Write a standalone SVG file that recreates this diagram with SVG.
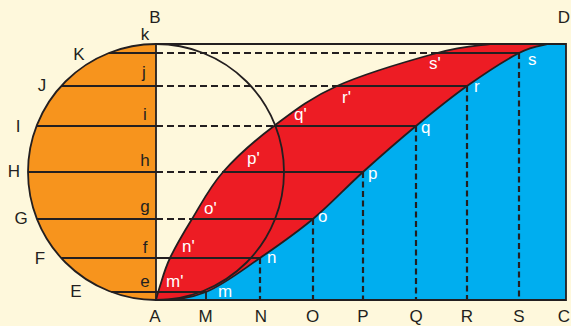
<svg xmlns="http://www.w3.org/2000/svg" width="571" height="326" viewBox="0 0 571 326">
<style>
.ln{stroke:#231f20;stroke-width:1.8;fill:none}
.dh{stroke:#231f20;stroke-width:2;fill:none;stroke-dasharray:7 4}
.dv{stroke:#231f20;stroke-width:2.2;fill:none;stroke-dasharray:6 3.5}
.lb{font-family:"Liberation Sans",Arial,sans-serif;font-size:17px;fill:#231f20;text-anchor:middle}
.wl{font-family:"Liberation Sans",Arial,sans-serif;font-size:17px;fill:#ffffff}
</style>
<rect width="571" height="326" fill="#fef8dc"/>
<g id="fills">
<path id="orange" d="M156,44 A128,128 0 0 0 156,300 Z" fill="#f7941d"/>
<path id="blue" d="M156,300 C175,300 188.7,299 206,292 C223.3,285 242.2,270.2 260,258 C277.8,245.8 295.8,233.3 313,219 C330.2,204.7 345.8,187.5 363,172 C380.2,156.5 398.7,140.3 416,126 C433.3,111.7 449.8,98.2 467,86 C484.2,73.8 505.5,60 519,53 C532.5,46 543.2,45.5 548,44 L566,44 L566,300 Z" fill="#00aeef"/>
<path id="red" d="M156,300 C156.7,297.7 157.7,293 160,286 C162.3,279 164.7,269.2 170,258 C175.3,246.8 183.2,233.3 192,219 C200.8,204.7 209.3,187.5 223,172 C236.7,156.5 255,140.3 274,126 C293,111.7 309.8,98.2 337,86 C364.2,73.8 411.5,60 437,53 C462.5,46 481.2,45.5 490,44 L548,44 C543.2,45.5 532.5,46 519,53 C505.5,60 484.2,73.8 467,86 C449.8,98.2 433.3,111.7 416,126 C398.7,140.3 380.2,156.5 363,172 C345.8,187.5 330.2,204.7 313,219 C295.8,233.3 277.8,245.8 260,258 C242.2,270.2 223.3,285 206,292 C188.7,299 175,300 156,300 Z" fill="#ed1c24"/>
</g>
<g id="connectors">
<g id="solid-lines">
<line class="ln" x1="108.9" y1="53" x2="156" y2="53"/>
<line class="ln" x1="437" y1="53" x2="519" y2="53"/>
<line class="ln" x1="61.2" y1="86" x2="156" y2="86"/>
<line class="ln" x1="337" y1="86" x2="467" y2="86"/>
<line class="ln" x1="36.6" y1="126" x2="156" y2="126"/>
<line class="ln" x1="274" y1="126" x2="416" y2="126"/>
<line class="ln" x1="28" y1="172" x2="156" y2="172"/>
<line class="ln" x1="223" y1="172" x2="363" y2="172"/>
<line class="ln" x1="36.9" y1="219" x2="156" y2="219"/>
<line class="ln" x1="192" y1="219" x2="313" y2="219"/>
<line class="ln" x1="61.2" y1="258" x2="260" y2="258"/>
<line class="ln" x1="111.5" y1="292" x2="206" y2="292"/>
</g>
<g id="dashed-lines">
<line class="dh" x1="156" y1="53" x2="437" y2="53"/>
<line class="dh" x1="156" y1="86" x2="337" y2="86"/>
<line class="dh" x1="156" y1="126" x2="274" y2="126"/>
<line class="dh" x1="156" y1="172" x2="223" y2="172"/>
<line class="dh" x1="156" y1="219" x2="192" y2="219"/>
<line class="ln" x1="206" y1="292" x2="206" y2="300"/>
<line class="dv" x1="260" y1="258" x2="260" y2="300"/>
<line class="dv" x1="313" y1="219" x2="313" y2="300"/>
<line class="dv" x1="363" y1="172" x2="363" y2="300"/>
<line class="dv" x1="416" y1="126" x2="416" y2="300"/>
<line class="dv" x1="467" y1="86" x2="467" y2="300"/>
<line class="dv" x1="519" y1="53" x2="519" y2="300"/>
</g>
<circle class="ln" cx="156" cy="172" r="128" stroke-width="2"/>
<path id="upper-curve" class="ln" d="M156,300 C156.7,297.7 157.7,293 160,286 C162.3,279 164.7,269.2 170,258 C175.3,246.8 183.2,233.3 192,219 C200.8,204.7 209.3,187.5 223,172 C236.7,156.5 255,140.3 274,126 C293,111.7 309.8,98.2 337,86 C364.2,73.8 411.5,60 437,53 C462.5,46 481.2,45.5 490,44"/>
<path id="lower-curve" class="ln" d="M156,300 C175,300 188.7,299 206,292 C223.3,285 242.2,270.2 260,258 C277.8,245.8 295.8,233.3 313,219 C330.2,204.7 345.8,187.5 363,172 C380.2,156.5 398.7,140.3 416,126 C433.3,111.7 449.8,98.2 467,86 C484.2,73.8 505.5,60 519,53 C532.5,46 543.2,45.5 548,44"/>
<path id="frame" class="ln" stroke-width="2" d="M156,44 L566,44 L566,300 L156,300 Z"/>
</g>
<g id="labels">
<text class="lb" x="155" y="23">B</text>
<text class="lb" x="564" y="23">D</text>
<text class="lb" x="145" y="40">k</text>
<text class="lb" x="79" y="60">K</text>
<text class="lb" x="144" y="78">j</text>
<text class="lb" x="42" y="91">J</text>
<text class="lb" x="145" y="120">i</text>
<text class="lb" x="18" y="132">I</text>
<text class="lb" x="145" y="166">h</text>
<text class="lb" x="14" y="177">H</text>
<text class="lb" x="145" y="212">g</text>
<text class="lb" x="21" y="224">G</text>
<text class="lb" x="145" y="253">f</text>
<text class="lb" x="40" y="264">F</text>
<text class="lb" x="145" y="287">e</text>
<text class="lb" x="76" y="297">E</text>
<text class="lb" x="155" y="322">A</text>
<text class="lb" x="205.5" y="322">M</text>
<text class="lb" x="261" y="322">N</text>
<text class="lb" x="312.5" y="322">O</text>
<text class="lb" x="363" y="322">P</text>
<text class="lb" x="416" y="322">Q</text>
<text class="lb" x="467" y="322">R</text>
<text class="lb" x="519" y="322">S</text>
<text class="lb" x="564" y="322">C</text>
<text class="wl" x="166" y="287">m'</text>
<text class="wl" x="218" y="297">m</text>
<text class="wl" x="182" y="252">n'</text>
<text class="wl" x="267" y="263">n</text>
<text class="wl" x="204" y="214">o'</text>
<text class="wl" x="318" y="222">o</text>
<text class="wl" x="247" y="164">p'</text>
<text class="wl" x="368" y="179">p</text>
<text class="wl" x="294" y="120">q'</text>
<text class="wl" x="421" y="133">q</text>
<text class="wl" x="342" y="103">r'</text>
<text class="wl" x="474" y="92">r</text>
<text class="wl" x="429" y="69">s'</text>
<text class="wl" x="528" y="65">s</text>
</g>
</svg>
